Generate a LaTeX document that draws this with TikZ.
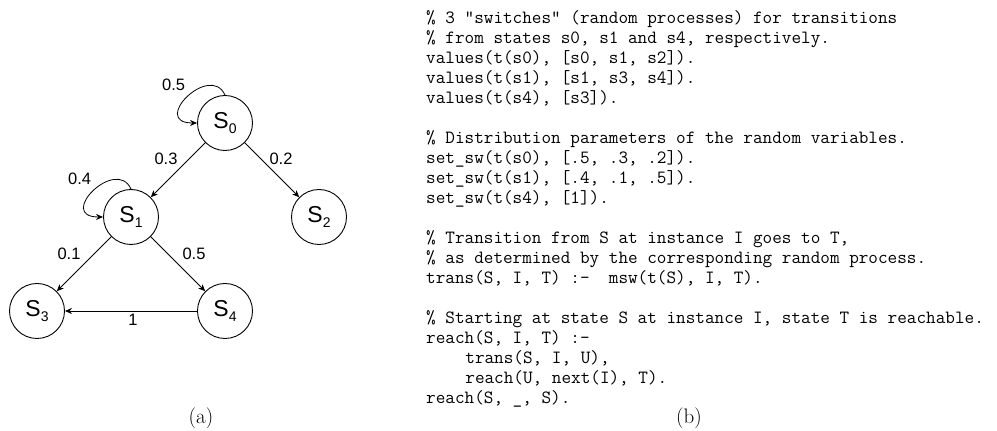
\documentclass[tikz,border=0pt]{standalone}
\usepackage{fontspec}
\newfontfamily\arialfont{Liberation Sans}
\usetikzlibrary{arrows.meta}
\newcommand\stsub[1]{\raisebox{-5pt}{\fontsize{14}{14}\selectfont #1}}
\begin{document}
\begin{tikzpicture}[x=1pt,y=1pt,
  state/.style={circle,draw,line width=0.9pt,minimum size=55pt,inner sep=0pt,
    font=\arialfont\fontsize{23}{23}\selectfont},
  edge/.style={line width=0.8pt,-{Stealth[length=7pt,width=6pt]}},
  lbl/.style={font=\arialfont\fontsize{16.5}{16.5}\selectfont,inner sep=0pt},
  code/.style={anchor=base west,inner sep=0pt,font=\ttfamily\addfontfeatures{FakeBold=0.5}\fontsize{18.67}{20}\selectfont},
  capt/.style={font=\fontsize{21}{25}\selectfont,inner sep=0pt}]
\useasboundingbox (0,0) rectangle (997,431);

% states
\node[state] (s0) at (225,308) {S\stsub{0}};
\node[state] (s1) at (131,214) {S\stsub{1}};
\node[state] (s2) at (319,214) {S\stsub{2}};
\node[state] (s3) at (37,120) {S\stsub{3}};
\node[state] (s4) at (225,120) {S\stsub{4}};

% self loops
\draw[edge] (s0.north) .. controls +(-15,33) and +(-47.5,0) .. (s0.west)
  node[lbl,pos=0.5,shift={(-14,12)}] (l00) {0.5};
\draw[edge] (s1.north) .. controls +(-15,33) and +(-47.5,0) .. (s1.west)
  node[lbl,pos=0.5,shift={(-14,12)}] (l11) {0.4};

% transitions
\draw[edge] (s0) -- (s1) node[lbl,pos=0.5,shift={(-12,11)}] (l01) {0.3};
\draw[edge] (s0) -- (s2) node[lbl,pos=0.5,shift={(9,11)}] (l02) {0.2};
\draw[edge] (s1) -- (s3) node[lbl,pos=0.5,shift={(-15,10)}] (l13) {0.1};
\draw[edge] (s1) -- (s4) node[lbl,pos=0.5,shift={(16,10)}] (l14) {0.5};
\draw[edge] (s4) -- (s3) node[lbl,pos=0.5,shift={(2,-9)}] (l43) {1};

% code
\node[code] (c0) at (426,407.5) {\% 3 "switches" (random processes) for transitions};
\node[code] (c1) at (426,387.5) {\% from states s0, s1 and s4, respectively.};
\node[code] (c2) at (426,367.5) {values(t(s0), [s0, s1, s2]).};
\node[code] (c3) at (426,347.5) {values(t(s1), [s1, s3, s4]).};
\node[code] (c4) at (426,327.5) {values(t(s4), [s3]).};
\node[code] (c6) at (426,287.5) {\% Distribution parameters of the random variables.};
\node[code] (c7) at (426,267.5) {set\_sw(t(s0), [.5, .3, .2]).};
\node[code] (c8) at (426,247.5) {set\_sw(t(s1), [.4, .1, .5]).};
\node[code] (c9) at (426,227.5) {set\_sw(t(s4), [1]).};
\node[code] (c11) at (426,187.5) {\% Transition from S at instance I goes to T,};
\node[code] (c12) at (426,167.5) {\% as determined by the corresponding random process.};
\node[code] (c13) at (426,147.5) {trans(S, I, T) :-\ \ msw(t(S), I, T).};
\node[code] (c15) at (426,107.5) {\% Starting at state S at instance I, state T is reachable.};
\node[code] (c16) at (426,87.5) {reach(S, I, T) :-};
\node[code] (c17) at (465.2,67.5) {trans(S, I, U),};
\node[code] (c18) at (465.2,47.5) {reach(U, next(I), T).};
\node[code] (c19) at (426,27.5) {reach(S, \_, S).};

% captions
\node[capt] (ca) at (201,13) {(a)};
\node[capt] (cb) at (689,13) {(b)};
\end{tikzpicture}
\end{document}
